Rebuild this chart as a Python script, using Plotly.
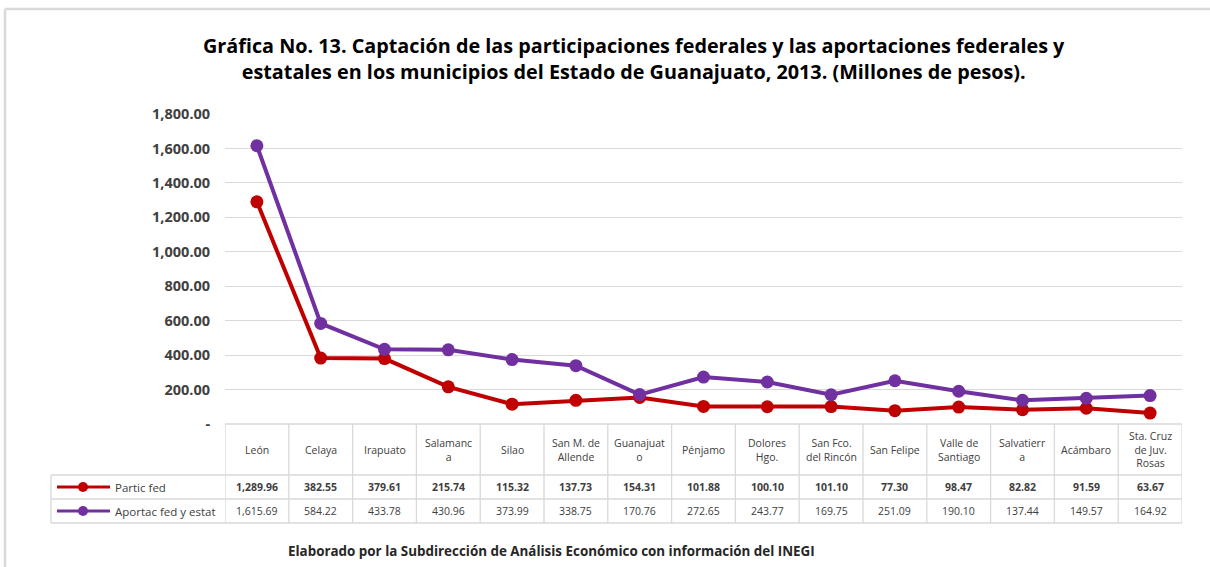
import plotly.graph_objects as go

# data
municipios = ["León", "Celaya", "Irapuato", "Salamanc<br>a", "Silao", "San M. de<br>Allende",
              "Guanajuat<br>o", "Pénjamo", "Dolores<br>Hgo.", "San Fco.<br>del Rincón", "San Felipe",
              "Valle de<br>Santiago", "Salvatierr<br>a", "Acámbaro", "Sta. Cruz<br>de Juv.<br>Rosas"]
partic_fed = [1289.96, 382.55, 379.61, 215.74, 115.32, 137.73, 154.31, 101.88, 100.10,
              101.10, 77.30, 98.47, 82.82, 91.59, 63.67]
aportac_fed_estat = [1615.69, 584.22, 433.78, 430.96, 373.99, 338.75, 170.76, 272.65, 243.77,
                     169.75, 251.09, 190.10, 137.44, 149.57, 164.92]
y_ticks = [0, 200, 400, 600, 800, 1000, 1200, 1400, 1600, 1800]
y_ticktext = ["-"] + [f"{v:,.2f}" for v in y_ticks[1:]]

W, H = 1210, 567
L, R, T, B = 225, 1182, 114, 424  # plot area in pixels
FONT = "Open Sans"
GRID = "#d9d9d9"
TXT = "#404040"
RED = "#c00000"
PURPLE = "#7030a0"


def px(x):
    return (x - L) / (R - L)


def py(y):
    return (B - y) / (B - T)


n = len(municipios)
xs = list(range(n))

fig = go.Figure()
fig.add_trace(go.Scatter(x=xs, y=partic_fed, mode="lines+markers", name="Partic fed",
                         line=dict(color=RED, width=4), marker=dict(size=13, color=RED)))
fig.add_trace(go.Scatter(x=xs, y=aportac_fed_estat, mode="lines+markers", name="Aportac fed y estat",
                         line=dict(color=PURPLE, width=4), marker=dict(size=13, color=PURPLE)))

shapes = []
annotations = []

# table grid
row_y = [B, 475, 499, 523]
for i, yy in enumerate(row_y):
    x0 = 51 if i > 0 else L
    shapes.append(dict(type="line", xref="paper", yref="paper", x0=px(x0), x1=1, y0=py(yy), y1=py(yy),
                       line=dict(color=GRID, width=1.3)))
for k in range(n + 1):
    shapes.append(dict(type="line", xref="x", yref="paper", x0=k - 0.5, x1=k - 0.5, y0=py(B), y1=py(523),
                       line=dict(color=GRID, width=1.3)))
shapes.append(dict(type="line", xref="paper", yref="paper", x0=px(51), x1=px(51), y0=py(475), y1=py(523),
                   line=dict(color=GRID, width=1.3)))

# header + values
for i, name in enumerate(municipios):
    annotations.append(dict(x=i, y=py(449.5), xref="x", yref="paper", text=name, showarrow=False,
                            xanchor="center", yanchor="middle",
                            font=dict(size=10.5, color=TXT, family=FONT), align="center"))
    annotations.append(dict(x=i, y=py(487), xref="x", yref="paper", text=f"{partic_fed[i]:,.2f}",
                            showarrow=False, xanchor="center", yanchor="middle",
                            font=dict(size=10.5, color=TXT, family=FONT, weight="bold")))
    annotations.append(dict(x=i, y=py(511), xref="x", yref="paper", text=f"{aportac_fed_estat[i]:,.2f}",
                            showarrow=False, xanchor="center", yanchor="middle",
                            font=dict(size=10.5, color=TXT, family=FONT)))

# legend keys in table
for yy, color, label in [(487, RED, "Partic fed"), (511, PURPLE, "Aportac fed y estat")]:
    shapes.append(dict(type="line", xref="paper", yref="paper", x0=px(57), x1=px(110), y0=py(yy), y1=py(yy),
                       line=dict(color=color, width=3)))
    shapes.append(dict(type="circle", xref="paper", yref="paper", xsizemode="pixel", ysizemode="pixel",
                       xanchor=px(83), yanchor=py(yy), x0=-5, x1=5, y0=-5, y1=5,
                       fillcolor=color, line=dict(color=color, width=0)))
    annotations.append(dict(x=px(113), y=py(yy), xref="paper", yref="paper", text=label, showarrow=False,
                            xanchor="left", yanchor="middle", font=dict(size=11.5, color=TXT, family=FONT)))

# outer frame
shapes.append(dict(type="line", xref="paper", yref="paper", x0=px(5), x1=px(W + 5), y0=py(9), y1=py(9),
                   line=dict(color=GRID, width=2.5)))
shapes.append(dict(type="line", xref="paper", yref="paper", x0=px(5), x1=px(5), y0=py(9), y1=py(H + 5),
                   line=dict(color=GRID, width=2.5)))

# title
annotations.append(dict(x=px(634), y=py(59), xref="paper", yref="paper", showarrow=False,
                        xanchor="center", yanchor="middle",
                        text="Gráfica No. 13. Captación de las participaciones federales y las aportaciones federales y<br>"
                             "estatales en los municipios del Estado de Guanajuato, 2013. (Millones de pesos).",
                        font=dict(size=19.8, color="#000000", family=FONT, weight="bold"), align="center"))
# footer
annotations.append(dict(x=px(551), y=py(551), xref="paper", yref="paper", showarrow=False,
                        xanchor="center", yanchor="middle",
                        text="Elaborado por la Subdirección de Análisis Económico con información del INEGI",
                        font=dict(size=13.4, color="#262626", family=FONT, weight="bold")))

fig.update_layout(
    width=W, height=H,
    margin=dict(l=L, r=W - R, t=T, b=H - B, pad=0),
    paper_bgcolor="white", plot_bgcolor="white",
    showlegend=False,
    shapes=shapes, annotations=annotations,
    xaxis=dict(range=[-0.5, n - 0.5], showticklabels=False, showgrid=False, zeroline=False,
               showline=False, fixedrange=True),
    yaxis=dict(range=[0, 1800], tickvals=y_ticks, ticktext=y_ticktext, showgrid=True,
               gridcolor=GRID, gridwidth=1.3, zeroline=False, showline=False,
               tickfont=dict(size=14.5, color=TXT, family=FONT, weight="bold"), ticks="outside", ticklen=11,
               tickcolor="rgba(0,0,0,0)"),
)

fig.write_html("out.html", config={"displayModeBar": False},
               post_script="document.body.style.margin='0px';")
